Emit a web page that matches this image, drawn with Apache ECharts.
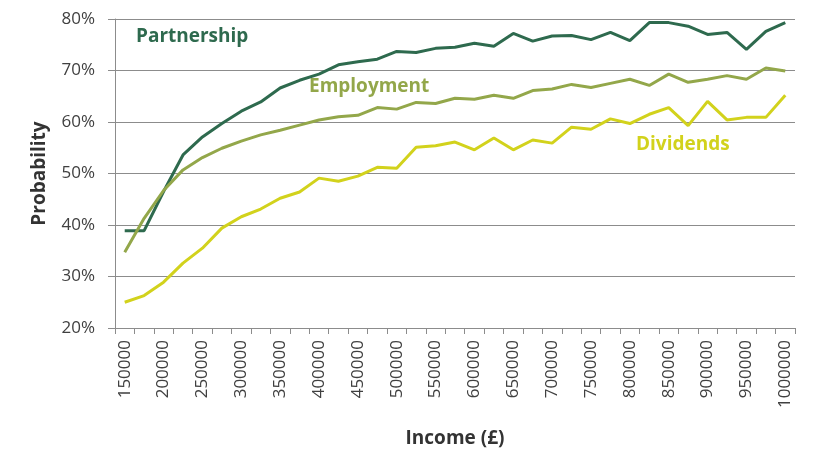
<!DOCTYPE html>
<html>
<head>
<meta charset="utf-8">
<script src="https://cdn.jsdelivr.net/npm/echarts@6/dist/echarts.min.js"></script>
<style>
  html, body { margin: 0; padding: 0; background: #fff; }
  #chart { width: 813px; height: 467px; }
</style>
</head>
<body>
<div id="chart"></div>
<script>
// 收入分组
var incomes = [
  "150000", "175000", "200000", "225000", "250000", "275000", "300000",
  "325000", "350000", "375000", "400000", "425000", "450000", "475000",
  "500000", "525000", "550000", "575000", "600000", "625000", "650000",
  "675000", "700000", "725000", "750000", "775000", "800000", "825000",
  "850000", "875000", "900000", "925000", "950000", "975000", "1000000"
];

var partnership = [
  38.9, 38.9, 46.5, 53.6, 57.1, 59.7, 62.1, 63.9, 66.6, 68.1, 69.3, 71.1,
  71.7, 72.2, 73.7, 73.5, 74.3, 74.5, 75.3, 74.7, 77.2, 75.7, 76.7, 76.8,
  76.0, 77.4, 75.8, 79.3, 79.3, 78.6, 77.0, 77.4, 74.1, 77.6, 79.3
];

var employment = [
  34.7, 41.3, 46.7, 50.7, 53.1, 54.9, 56.3, 57.5, 58.4, 59.4, 60.4, 61.0,
  61.3, 62.8, 62.5, 63.8, 63.6, 64.6, 64.4, 65.2, 64.6, 66.1, 66.4, 67.3,
  66.7, 67.5, 68.3, 67.1, 69.3, 67.7, 68.3, 69.0, 68.3, 70.5, 69.9
];

var dividends = [
  25.0, 26.3, 28.9, 32.6, 35.5, 39.4, 41.6, 43.1, 45.2, 46.4, 49.1, 48.5,
  49.5, 51.2, 51.0, 55.1, 55.4, 56.1, 54.6, 56.9, 54.6, 56.5, 55.9, 59.0,
  58.6, 60.6, 59.7, 61.5, 62.8, 59.3, 64.0, 60.4, 60.9, 60.9, 65.2
];

var colors = {
  partnership: "#2e6a4e",
  employment: "#93a74a",
  dividends: "#d2d21c"
};

var font = "'Open Sans', 'Noto Sans', sans-serif";
var gridColor = "#8c8c8c";

function lineSeries(name, data, color) {
  return {
    name: name,
    type: "line",
    data: data,
    symbol: "none",
    smooth: false,
    lineStyle: { color: color, width: 3 },
    itemStyle: { color: color },
    animation: false
  };
}

function seriesLabel(text, left, top, color) {
  return {
    type: "text",
    left: left,
    top: top,
    style: {
      text: text,
      fill: color,
      font: "bold 19px " + font
    }
  };
}

var option = {
  backgroundColor: "#fff",
  animation: false,
  grid: { left: 115, right: 18, top: 19, bottom: 139, containLabel: false },
  xAxis: {
    type: "category",
    data: incomes,
    boundaryGap: true,
    name: "Income (£)",
    nameLocation: "middle",
    nameGap: 101,
    nameTextStyle: { fontFamily: font, fontWeight: "bold", fontSize: 19, color: "#333" },
    axisLine: { lineStyle: { color: gridColor, width: 1 } },
    axisTick: { show: true, interval: 0, length: 6, lineStyle: { color: gridColor } },
    axisLabel: {
      interval: 1,
      rotate: 90,
      margin: 12,
      fontFamily: font,
      fontSize: 17,
      color: "#404040"
    },
    splitLine: { show: false }
  },
  yAxis: {
    type: "value",
    min: 20,
    max: 80,
    interval: 10,
    name: "Probability",
    nameLocation: "middle",
    nameGap: 66,
    nameRotate: 90,
    nameTextStyle: { fontFamily: font, fontWeight: "bold", fontSize: 19, color: "#333" },
    axisLine: { show: true, lineStyle: { color: gridColor, width: 1 } },
    axisTick: { show: true, length: 7, lineStyle: { color: gridColor } },
    axisLabel: {
      formatter: "{value}%",
      margin: 20,
      fontFamily: font,
      fontSize: 17,
      color: "#404040"
    },
    splitLine: { show: true, lineStyle: { color: gridColor, width: 1 } }
  },
  graphic: [
    seriesLabel("Partnership", 136, 27, colors.partnership),
    seriesLabel("Employment", 309, 77, colors.employment),
    seriesLabel("Dividends", 636, 135, colors.dividends)
  ],
  series: [
    lineSeries("Partnership", partnership, colors.partnership),
    lineSeries("Employment", employment, colors.employment),
    lineSeries("Dividends", dividends, colors.dividends)
  ]
};

var myChart = echarts.init(document.getElementById("chart"), null, { renderer: "canvas" });
myChart.setOption(option);
</script>
</body>
</html>
